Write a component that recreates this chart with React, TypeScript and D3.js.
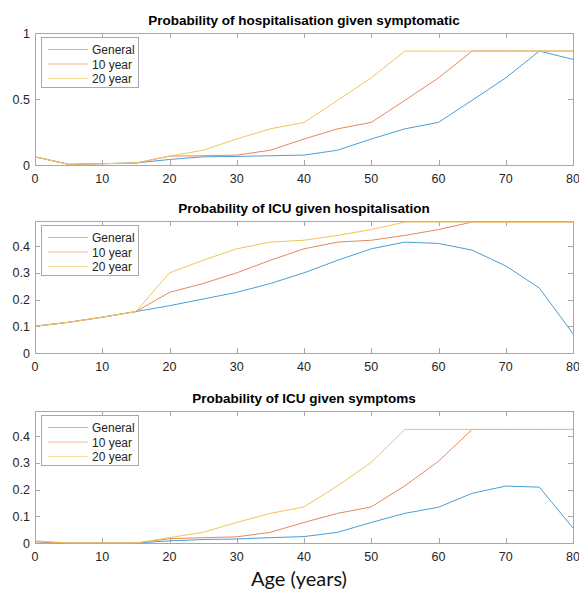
import React, { useEffect, useRef } from 'react';
import * as d3 from 'd3';

// Age groups (x axis)
const ages = [0, 5, 10, 15, 20, 25, 30, 35, 40, 45, 50, 55, 60, 65, 70, 75, 80];

const seriesNames = ['General', '10 year', '20 year'];
const seriesColors = ['#4a9fd8', '#e8875e', '#f0c65a'];

// Panel 1: probability of hospitalisation given symptomatic
const hospGeneral = [0.062, 0.005, 0.01, 0.015, 0.042, 0.062, 0.065, 0.07, 0.075, 0.112, 0.197, 0.274, 0.323, 0.49, 0.66, 0.863, 0.8];
const hosp10 = [0.062, 0.005, 0.01, 0.015, 0.067, 0.07, 0.075, 0.112, 0.197, 0.274, 0.323, 0.49, 0.66, 0.863, 0.863, 0.863, 0.863];
const hosp20 = [0.062, 0.005, 0.01, 0.015, 0.067, 0.112, 0.197, 0.274, 0.323, 0.49, 0.66, 0.863, 0.863, 0.863, 0.863, 0.863, 0.863];

// Panel 2: probability of ICU given hospitalisation
const icuHospGeneral = [0.1, 0.115, 0.134, 0.155, 0.177, 0.202, 0.227, 0.26, 0.3, 0.347, 0.39, 0.415, 0.41, 0.385, 0.326, 0.243, 0.072];
const icuHosp10 = [0.1, 0.115, 0.134, 0.155, 0.227, 0.26, 0.3, 0.347, 0.39, 0.415, 0.422, 0.44, 0.462, 0.49, 0.49, 0.49, 0.49];
const icuHosp20 = [0.1, 0.115, 0.134, 0.155, 0.3, 0.347, 0.39, 0.415, 0.422, 0.44, 0.462, 0.49, 0.49, 0.49, 0.49, 0.49, 0.49];

// Panel 3: probability of ICU given symptoms
const icuSympGeneral = [0.005, 0, 0, 0, 0.008, 0.013, 0.015, 0.02, 0.024, 0.04, 0.077, 0.111, 0.134, 0.186, 0.213, 0.209, 0.056];
const icuSymp10 = [0.005, 0, 0, 0, 0.016, 0.02, 0.023, 0.04, 0.077, 0.111, 0.135, 0.214, 0.306, 0.425, 0.425, 0.425, 0.425];
const icuSymp20 = [0.008, 0, 0, 0, 0.02, 0.04, 0.077, 0.111, 0.135, 0.214, 0.302, 0.425, 0.425, 0.425, 0.425, 0.425, 0.425];

const xTicks = [0, 10, 20, 30, 40, 50, 60, 70, 80];

const panels = [
  { title: 'Probability of hospitalisation given symptomatic', yMax: 1, yTicks: [0, 0.5, 1], series: [hospGeneral, hosp10, hosp20] },
  { title: 'Probability of ICU given hospitalisation', yMax: 0.494, yTicks: [0, 0.1, 0.2, 0.3, 0.4], series: [icuHospGeneral, icuHosp10, icuHosp20] },
  { title: 'Probability of ICU given symptoms', yMax: 0.494, yTicks: [0, 0.1, 0.2, 0.3, 0.4], series: [icuSympGeneral, icuSymp10, icuSymp20] },
];

const WIDTH = 579;
const HEIGHT = 594;

const App: React.FC = () => {
  const svgRef = useRef<SVGSVGElement>(null);

  useEffect(() => {
    if (!svgRef.current) return;
    const svg = d3.select(svgRef.current);
    svg.selectAll('*').remove();

    const left = 35;
    const right = 573;
    const panelTops = [33, 221, 411];
    const panelHeight = 132;
    const axisColor = '#a8a8a8';
    const textColor = '#262626';
    const font = '"Liberation Sans", Arial, sans-serif';
    const tickLen = 5;

    const x = d3.scaleLinear().domain([0, 80]).range([left, right]);

    panels.forEach((panel, pi) => {
      const top = panelTops[pi];
      const bottom = top + panelHeight;
      const y = d3.scaleLinear().domain([0, panel.yMax]).range([bottom, top]);
      const g = svg.append('g');

      // Box
      g.append('rect')
        .attr('x', left + 0.5)
        .attr('y', top + 0.5)
        .attr('width', right - left)
        .attr('height', panelHeight)
        .attr('fill', '#fff')
        .attr('stroke', axisColor)
        .attr('stroke-width', 1);

      // X ticks (inside, bottom and top)
      xTicks.forEach(t => {
        const px = Math.round(x(t)) + 0.5;
        g.append('line').attr('x1', px).attr('x2', px).attr('y1', bottom).attr('y2', bottom - tickLen).attr('stroke', axisColor);
        g.append('line').attr('x1', px).attr('x2', px).attr('y1', top).attr('y2', top + tickLen).attr('stroke', axisColor);
        g.append('text')
          .attr('x', x(t))
          .attr('y', bottom + 18)
          .attr('text-anchor', 'middle')
          .attr('font-family', font)
          .attr('font-size', '12.5px')
          .attr('fill', textColor)
          .text(String(t));
      });

      // Y ticks (inside, left and right)
      panel.yTicks.forEach(t => {
        const py = Math.round(y(t)) + 0.5;
        g.append('line').attr('x1', left).attr('x2', left + tickLen).attr('y1', py).attr('y2', py).attr('stroke', axisColor);
        g.append('line').attr('x1', right).attr('x2', right - tickLen).attr('y1', py).attr('y2', py).attr('stroke', axisColor);
        g.append('text')
          .attr('x', left - 5)
          .attr('y', y(t) + 4.5)
          .attr('text-anchor', 'end')
          .attr('font-family', font)
          .attr('font-size', '12.5px')
          .attr('fill', textColor)
          .text(String(t));
      });

      // Lines
      const line = d3.line<number>()
        .x((_, i) => x(ages[i]))
        .y(d => y(d));

      panel.series.forEach((values, si) => {
        g.append('path')
          .datum(values)
          .attr('fill', 'none')
          .attr('stroke', seriesColors[si])
          .attr('stroke-width', 1)
          .attr('d', line);
      });

      // Title
      g.append('text')
        .attr('x', (left + right) / 2)
        .attr('y', top - 8)
        .attr('text-anchor', 'middle')
        .attr('font-family', font)
        .attr('font-size', '13.5px')
        .attr('font-weight', 'bold')
        .attr('fill', '#000')
        .text(panel.title);

      // Legend
      const lg = g.append('g').attr('transform', `translate(${left + 6},${top + 4})`);
      lg.append('rect')
        .attr('x', 0.5)
        .attr('y', 0.5)
        .attr('width', 97)
        .attr('height', 50)
        .attr('fill', '#fff')
        .attr('stroke', axisColor);
      seriesNames.forEach((name, si) => {
        const ly = 12.5 + si * 14.5;
        lg.append('line')
          .attr('x1', 7)
          .attr('x2', 47)
          .attr('y1', ly)
          .attr('y2', ly)
          .attr('stroke', seriesColors[si])
          .attr('stroke-opacity', 0.6);
        lg.append('text')
          .attr('x', 51)
          .attr('y', ly + 4.5)
          .attr('font-family', font)
          .attr('font-size', '12px')
          .attr('fill', textColor)
          .text(name);
      });
    });

    // X axis label
    svg.append('text')
      .attr('x', 299)
      .attr('y', 586)
      .attr('text-anchor', 'middle')
      .attr('font-family', 'Lato, "Open Sans", sans-serif')
      .attr('font-size', '20px')
      .attr('fill', '#111')
      .text('Age (years)');
  }, []);

  return (
    <svg
      ref={svgRef}
      width={WIDTH}
      height={HEIGHT}
      style={{ position: 'absolute', left: 0, top: 0, background: '#fff' }}
    />
  );
};

export default App;
